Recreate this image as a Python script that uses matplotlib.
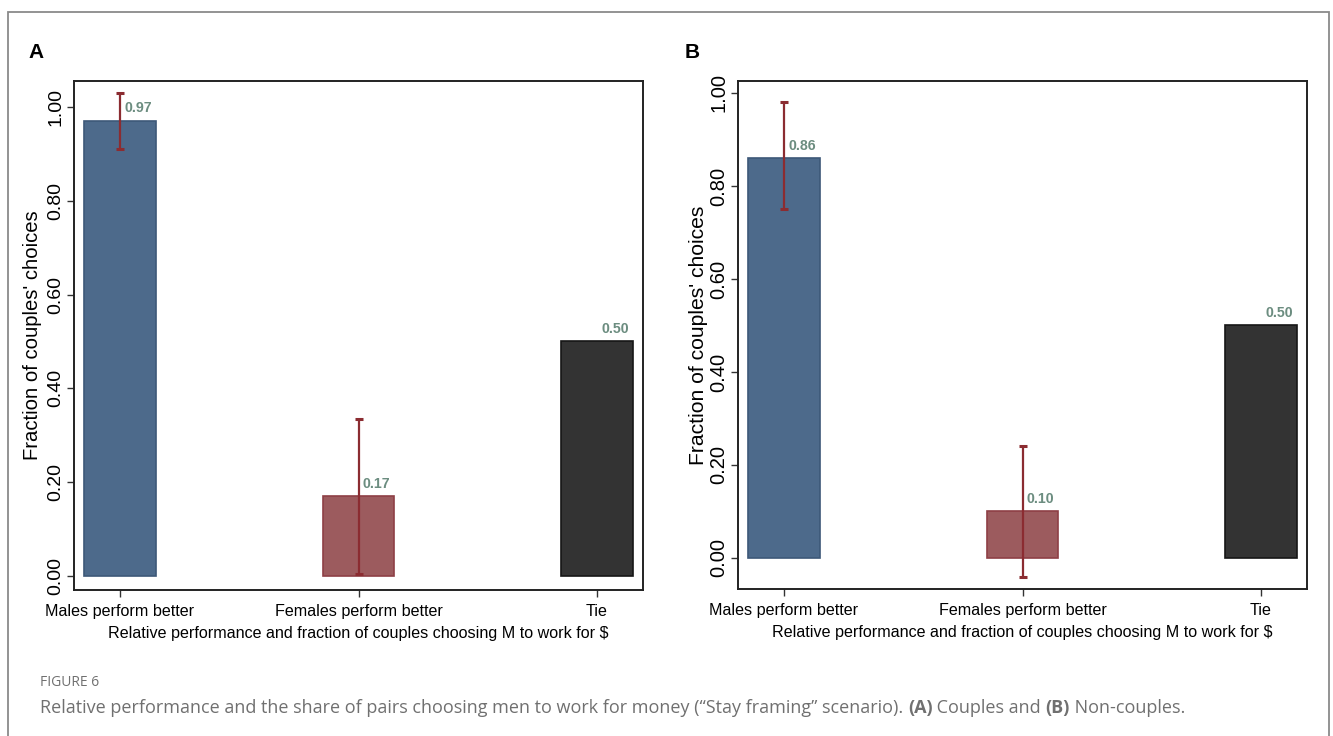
import matplotlib
matplotlib.use("Agg")
import matplotlib.pyplot as plt
import numpy as np
from matplotlib.patches import Rectangle

# values
categories = ["Males perform better", "Females perform better", "Tie"]
a_share = [0.97, 0.17, 0.50]
a_low = [0.91, 0.005, np.nan]
a_high = [1.03, 0.335, np.nan]
b_share = [0.86, 0.10, 0.50]
b_low = [0.75, -0.04, np.nan]
b_high = [0.98, 0.24, np.nan]
yticks = [0.0, 0.2, 0.4, 0.6, 0.8, 1.0]
ytick_labels = ["0.00", "0.20", "0.40", "0.60", "0.80", "1.00"]

fills = ["#4d6a8b", "#9c5b5e", "#333333"]
edges = ["#3d5878", "#8e3f45", "#161616"]
err_col = "#8b2c31"
lab_col = "#6c8d80"

plt.rcParams["font.family"] = ["Liberation Sans", "DejaVu Sans"]

W, H = 1333, 736
fig = plt.figure(figsize=(W / 100, H / 100), dpi=100)


def px_axes(left, top, right, bottom):
    return fig.add_axes([left / W, (H - bottom) / H, (right - left) / W, (bottom - top) / H])


def panel(ax, share, low, high, ylim, ysize, ylab_size):
    x = np.arange(len(categories))
    ax.bar(x, share, width=0.3, color=fills, edgecolor=edges, linewidth=1.2, zorder=2)
    for i in range(len(x)):
        if not np.isnan(low[i]):
            ax.errorbar(x[i], share[i], yerr=[[share[i] - low[i]], [high[i] - share[i]]],
                        fmt="none", ecolor=err_col, elinewidth=1.6, capsize=3, capthick=2.2, zorder=3)
        ax.annotate("%.2f" % share[i], (x[i], share[i]), xytext=(3, 4), textcoords="offset points",
                    ha="left", va="bottom", color=lab_col, fontsize=10.2, fontweight="bold", zorder=4)
    ax.set_xlim(-0.193, 2.193)
    ax.set_ylim(*ylim)
    ax.set_xticks(x)
    ax.set_xticklabels(categories, fontsize=11.6)
    ax.set_yticks(yticks)
    ax.set_yticklabels(ytick_labels, fontsize=ysize, rotation=90, va="center")
    ax.tick_params(axis="both", length=5, width=1, color="#333333")
    ax.tick_params(axis="y", pad=2)
    ax.tick_params(axis="x", pad=5)
    for s in ax.spines.values():
        s.set_linewidth(1.4)
        s.set_color("#222222")
    ax.set_xlabel("Relative performance and fraction of couples choosing M to work for $",
                  fontsize=11.6, labelpad=5)
    ax.set_ylabel("Fraction of couples' choices", fontsize=ylab_size)


ax_a = px_axes(74, 81, 643, 590)
panel(ax_a, a_share, a_low, a_high, (-0.0299, 1.0554), 14, 14.6)
ax_a.yaxis.set_label_coords(-0.057, 0.5)

ax_b = px_axes(738, 81, 1307, 589)
panel(ax_b, b_share, b_low, b_high, (-0.0667, 1.0258), 14.5, 15.2)
ax_b.yaxis.set_label_coords(-0.053, 0.5)

fig.text(28 / W, 1 - 53 / H, "A", fontsize=15, fontweight="bold", va="center")
fig.text(685 / W, 1 - 53 / H, "B", fontsize=15, fontweight="bold", va="center")

# outer frame
fig.patches.append(Rectangle((8 / W, -0.05), (1329 - 8) / W, 1 - 12 / H + 0.05, transform=fig.transFigure,
                             fill=False, edgecolor="#8a8a8a", linewidth=1.3))

cap_col = "#707070"
fig.text(40 / W, 1 - 683 / H, "FIGURE 6", fontsize=10, color=cap_col, family="Open Sans", va="center")

pieces = [
    ("Relative performance and the share of pairs choosing men to work for money (\u201cStay framing\u201d scenario). ", "normal"),
    ("(A)", "bold"),
    (" Couples and ", "normal"),
    ("(B)", "bold"),
    (" Non-couples.", "normal"),
]
renderer = fig.canvas.get_renderer()
xpos = 40
for txt, wt in pieces:
    t = fig.text(xpos / W, 1 - 708 / H, txt, fontsize=13.0, color=cap_col, family="Open Sans",
                 fontweight=wt, va="center")
    bb = t.get_window_extent(renderer=renderer)
    xpos += bb.width

fig.savefig("out.png", dpi=100)
